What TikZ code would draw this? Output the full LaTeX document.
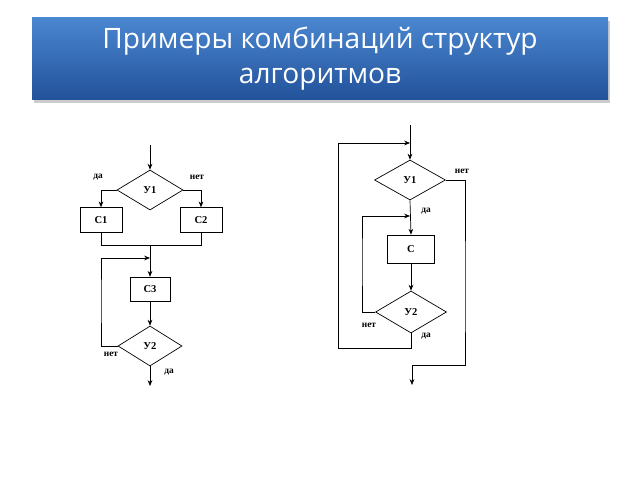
\documentclass[tikz,border=0pt]{standalone}
\usepackage{fontspec}
\setmainfont{Liberation Serif}
\newfontfamily\titlefont{Open Sans}
\usetikzlibrary{shapes.geometric,arrows.meta,positioning}
\definecolor{bartop}{HTML}{4A86D0}
\definecolor{barbot}{HTML}{22529A}

\begin{document}
\begin{tikzpicture}[
    x = 0.03cm, y = -0.03cm,
    font = \small\bfseries
  ]

  \tikzset {every path/.style = {line width = 0.6pt, >={Stealth[length=5pt,width=4pt]}}}
  \tikzset {cond/.style = {draw, diamond, inner sep = 0, minimum width = 1.98cm, minimum height = 1.2cm}}
  \tikzset {act/.style = {draw, rectangle, inner sep = 0, minimum height = 0.74cm}}
  \tikzset {lbl/.style = {font = \footnotesize\bfseries, inner sep = 0}}

  \useasboundingbox [fill = white] (0,0) rectangle (640,480);

  % title bar
  \fill [gray!40] (34,21) rectangle (610,103);
  \shade [top color = bartop, bottom color = barbot] (32,18) rectangle (608,100);
  \node [white, font = \titlefont\fontsize{24}{30}\selectfont, align = center] (title) at (320,59)
    {Примеры комбинаций структур\\алгоритмов};

  % left diagram
  \node [cond] (u1) at (150,190) {У1};
  \node [act, minimum width = 1.26cm] (c1) at (101,220) {С1};
  \node [act, minimum width = 1.26cm] (c2) at (201,220) {С2};
  \node [act, minimum width = 1.2cm] (c3) at (150,289.5) {С3};
  \node [cond, minimum width = 1.92cm] (u2) at (150,346) {У2};
  \coordinate (in1) at (150,145);
  \coordinate (join) at (150,245);
  \coordinate (back1) at (150,258);
  \coordinate (out1) at (150,386);

  \draw [->] (in1) -- (u1.north);
  \draw [->] (u1.west) -| (c1.north);
  \draw [->] (u1.east) -| (c2.north);
  \draw (c1.south) |- (join);
  \draw (c2.south) |- (join);
  \draw [->] (join) -- (c3.north);
  \draw [->] (c3.south) -- (u2.north);
  \draw [->] (u2.west) -| (101,300) |- (back1);
  \draw [->] (u2.south) -- (out1);

  \node [lbl] (da1) at (98,177) {да};
  \node [lbl] (net1) at (197,177) {нет};
  \node [lbl] (net2) at (111,354) {нет};
  \node [lbl] (da2) at (169,372) {да};

  % right diagram
  \node [cond, minimum width = 2.13cm] (v1) at (410,180) {У1};
  \node [act, minimum width = 1.41cm, minimum height = 0.84cm] (c) at (411,249) {С};
  \node [cond, minimum width = 2.13cm, minimum height = 1.26cm] (v2) at (411,312) {У2};
  \coordinate (in2) at (410,125);
  \coordinate (back2) at (410,143);
  \coordinate (back3) at (410,216);
  \coordinate (out2) at (412,385);

  \draw (in2) -- (back2);
  \draw [->] (back2) -- (v1.north);
  \draw [->] (v1.south) -- (c.north);
  \draw [->] (c.south) -- (v2.north);
  \draw [->] (v2.west) -| (362,260) |- (back3);
  \draw [->] (v2.south) |- (338,348) |- (back2);
  \draw [->] (v1.east) -| (465,300) |- (412,365) -- (out2);

  \node [lbl] (net3) at (462,171) {нет};
  \node [lbl] (da3) at (426,211) {да};
  \node [lbl] (net4) at (369,325) {нет};
  \node [lbl] (da4) at (426,336) {да};
\end{tikzpicture}
\end{document}
